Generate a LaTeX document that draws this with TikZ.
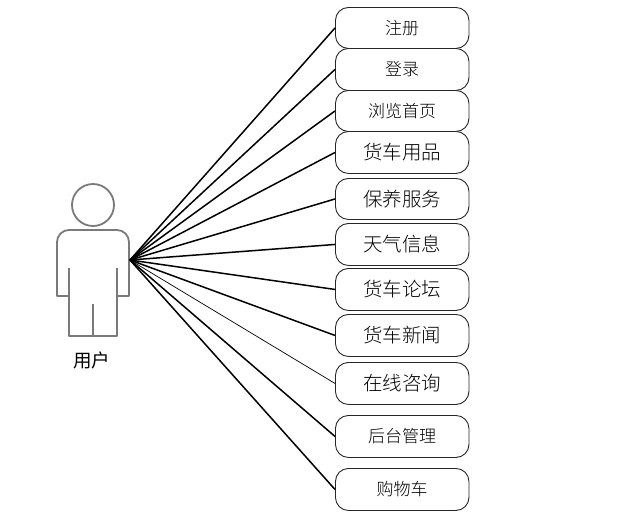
\documentclass[tikz,border=0pt]{standalone}
\usepackage{fontspec}
\setmainfont{Liberation Serif}
\newfontfamily\cjk{Noto Sans CJK SC}[Scale=1]
\newfontfamily\cjkl{Noto Sans CJK SC Light}
\begin{document}
\begin{tikzpicture}[x=1pt,y=-1pt,
  uc/.style={draw=black!85,line width=0.9pt,rounded corners=13pt,minimum width=133.5pt,inner sep=0pt,fill=white,anchor=north west},
  big/.style={font=\cjkl\fontsize{19.5}{20}\selectfont},
  small/.style={font=\cjkl\fontsize{17}{18}\selectfont},
  link/.style={draw=black,line width=1.5pt},
  thinlink/.style={draw=black,line width=0.7pt},
  figure/.style={draw=black!52,line width=1.8pt,line join=round}]
\useasboundingbox (0,0) rectangle (636,515);
% user figure
\node[figure,circle,minimum size=42pt,inner sep=0pt] (head) at (93,205) {};
\draw[figure] (69,296) -- (57,296) -- (57,242) arc[start angle=180,end angle=270,radius=12] -- (117,230) arc[start angle=270,end angle=360,radius=12] -- (129,296) -- (117,296);
\draw[figure] (69,268) -- (69,336) -- (117,336) -- (117,268);
\draw[figure] (93,304) -- (93,336);
\coordinate (u) at (130,260);
\node[font=\cjk\fontsize{18.5}{19}\selectfont] (label) at (91.5,360) {用户};
% use cases
\node[uc,small,minimum height=41pt] (a) at (335,7) {注册};
\node[uc,small,minimum height=42pt] (b) at (335,48) {登录};
\node[uc,small,minimum height=41pt] (c) at (335,90) {浏览首页};
\node[uc,big,minimum height=42pt] (d) at (335,131) {货车用品};
\node[uc,big,minimum height=41pt] (e) at (335,178) {保养服务};
\node[uc,big,minimum height=42pt] (f) at (335,223) {天气信息};
\node[uc,big,minimum height=42pt] (g) at (335,268) {货车论坛};
\node[uc,big,minimum height=42pt] (h) at (335,314) {货车新闻};
\node[uc,big,minimum height=42pt] (i) at (335,362) {在线咨询};
\node[uc,small,minimum height=42pt] (j) at (335,415) {后台管理};
\node[uc,small,minimum height=42pt] (k) at (335,468) {购物车};
% connectors
\foreach \n in {a,b,c,d,e,f,g,h,j,k} \draw[link] (u) -- (\n.west);
\draw[thinlink] (u) -- (i.west);
\end{tikzpicture}
\end{document}
